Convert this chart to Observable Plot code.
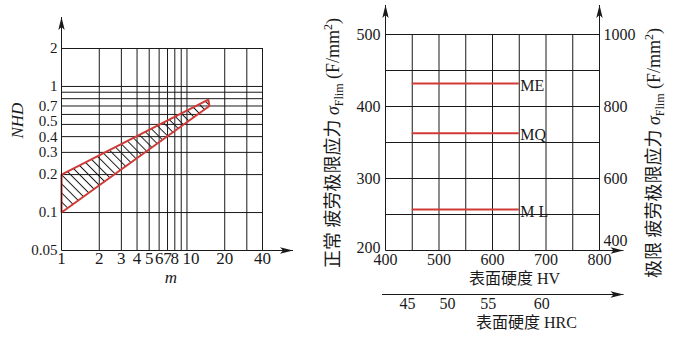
<!DOCTYPE html>
<html><head><meta charset="utf-8">
<script src="https://cdn.jsdelivr.net/npm/d3@7"></script>
<script src="https://cdn.jsdelivr.net/npm/@observablehq/plot@0.6"></script>
<style>
body{margin:0;background:#fff;}
#chart{position:relative;width:680px;height:358px;overflow:hidden;background:#fff;}
#chart svg{position:absolute;top:0;}
</style></head><body><div id="chart"></div>
<script>
// ---------- Left panel data (log-log NHD vs m) ----------
const mTickLabels = [1, 2, 3, 4, 5, 6, 7, 8, 20, 40];
const mTickLabelShifted = [10];
const mGrid = [2, 3, 4, 5, 6, 7, 8, 9, 10, 20, 30, 40];
const nhdTickLabels = [0.05, 0.1, 0.2, 0.3, 0.7, 1, 2];
const nhdTickLabelRaised = [0.5];
const nhdTickLabelLowered = [0.4];
const nhdGrid = [0.1, 0.2, 0.3, 0.4, 0.5, 0.6, 0.7, 0.8, 0.9, 1, 2];
const bandUpperM = [1, 14.8];
const bandUpperNHD = [0.2, 0.785];
const bandLowerM = [1, 15.1];
const bandLowerNHD = [0.1, 0.70];

// ---------- Right panel data ----------
const hvTicks = [400, 500, 600, 700, 800];
const hvGrid = [450, 500, 550, 600, 650, 700, 750, 800];
const sigmaTicks = [300, 400, 500];
const sigmaLowTick = [200];
const sigmaGrid = [250, 300, 350, 400, 450, 500];
const sigmaLimTicks = [1000, 800, 600];
const sigmaLimLowTick = [400];
const limitPerNormal = 2; // right axis value = 2 x left axis value
const hrcTicks = [45, 50, 55, 60];
const hrcAtHV = [441, 516, 592, 692];
const gradeNames = ["ME", "MQ", "M L"];
const gradeSigma = [432, 363, 257];
const gradeFromHV = [450, 450, 450];
const gradeToHV = [650, 650, 650];

const SERIF = "'Liberation Serif','Times New Roman','Noto Sans CJK SC',serif";
const INK = "#1a1a1a";
const RED = "#cf3a36";

const band = [
  ...bandUpperM.map((m, i) => ({m, v: bandUpperNHD[i]})),
  ...bandLowerM.map((m, i) => ({m, v: bandLowerNHD[i]})).reverse()
];
band.push(band[0]);

const grades = gradeNames.map((name, i) => ({name, s: gradeSigma[i], x1: gradeFromHV[i], x2: gradeToHV[i]}));

const yTick = {frameAnchor: "left", textAnchor: "end", dx: -4, fontSize: 15};

const left = Plot.plot({
  width: 300, height: 358,
  marginLeft: 61, marginRight: 38, marginTop: 48, marginBottom: 108,
  x: {type: "log", domain: [1, 40], axis: null},
  y: {type: "log", domain: [0.05, 2], axis: null},
  style: {background: "transparent", fontFamily: SERIF, fontSize: "17px", color: INK},
  marks: [
    Plot.ruleX(mGrid, {x: d => d, y1: 0.05, y2: 2, stroke: INK, strokeWidth: 1}),
    Plot.ruleY(nhdGrid, {y: d => d, x1: 1, x2: 40, stroke: INK, strokeWidth: 1}),
    Plot.line(band, {x: "m", y: "v", fill: "url(#hatch)", stroke: RED, strokeWidth: 2, strokeLinejoin: "miter"}),
    Plot.text(mTickLabels, {x: d => d, text: d => String(d), frameAnchor: "bottom", dy: 13}),
    Plot.text(mTickLabelShifted, {x: d => d, text: d => String(d), frameAnchor: "bottom", dy: 13, dx: 4}),
    Plot.text(nhdTickLabels, {y: d => d, text: d => String(d), ...yTick}),
    Plot.text(nhdTickLabelRaised, {y: d => d, text: d => String(d), ...yTick, dy: -3}),
    Plot.text(nhdTickLabelLowered, {y: d => d, text: d => String(d), ...yTick, dy: 1}),
    Plot.text(["m"], {text: d => d, frameAnchor: "bottom", dy: 32, dx: 9, fontStyle: "italic"}),
    Plot.text(["NHD"], {text: d => d, frameAnchor: "left", dx: -44, dy: -11, rotate: -90, fontStyle: "italic"})
  ]
});

const right = Plot.plot({
  width: 380, height: 358,
  marginLeft: 85, marginRight: 81, marginTop: 34, marginBottom: 108,
  x: {domain: [400, 800], axis: null},
  y: {domain: [200, 500], axis: null},
  style: {background: "transparent", fontFamily: SERIF, fontSize: "16px", color: INK},
  marks: [
    Plot.ruleX(hvGrid, {x: d => d, y1: 200, y2: 500, stroke: INK, strokeWidth: 1}),
    Plot.ruleY(sigmaGrid, {y: d => d, x1: 400, x2: 800, stroke: INK, strokeWidth: 1}),
    Plot.ruleY(grades, {y: "s", x1: "x1", x2: "x2", stroke: RED, strokeWidth: 2}),
    Plot.text(grades, {x: "x2", y: "s", text: "name", textAnchor: "start", dx: 1, dy: 2}),
    Plot.text(sigmaTicks, {y: d => d, text: d => String(d), frameAnchor: "left", textAnchor: "end", dx: -5}),
    Plot.text(sigmaLowTick, {y: d => d, text: d => String(d), frameAnchor: "left", textAnchor: "end", dx: -5, dy: -3}),
    Plot.text(sigmaLimTicks, {y: d => d / limitPerNormal, text: d => String(d), frameAnchor: "right", textAnchor: "start", dx: 4}),
    Plot.text(sigmaLimLowTick, {y: d => d / limitPerNormal, text: d => String(d), frameAnchor: "right", textAnchor: "start", dx: 4, dy: -10}),
    Plot.text(hvTicks, {x: d => d, text: d => String(d), frameAnchor: "bottom", dy: 14}),
    Plot.text(hrcTicks, {x: (d, i) => hrcAtHV[i], text: d => String(d), frameAnchor: "bottom", dy: 58}),
    Plot.text(["表面硬度 HV"], {text: d => d, frameAnchor: "bottom", dy: 33, dx: 22}),
    Plot.text(["表面硬度 HRC"], {text: d => d, frameAnchor: "bottom", dy: 77, dx: 34})
  ]
});

left.style.left = "0px";
right.style.left = "300px";
const chart = document.getElementById("chart");
chart.appendChild(left);
chart.appendChild(right);

// hatch pattern
const defs = d3.select(left).insert("defs", ":first-child");
const pat = defs.append("pattern").attr("id", "hatch").attr("patternUnits", "userSpaceOnUse")
  .attr("width", 6.4).attr("height", 6.4).attr("patternTransform", "rotate(-45)");
pat.append("line").attr("x1", 3.2).attr("y1", 0).attr("x2", 3.2).attr("y2", 6.4)
  .attr("stroke", INK).attr("stroke-width", 1);

function addArrow(svg, x1, y1, x2, y2) {
  const g = d3.select(svg).append("g");
  g.append("line").attr("x1", x1).attr("y1", y1).attr("x2", x2).attr("y2", y2)
    .attr("stroke", INK).attr("stroke-width", 1);
  const a = Math.atan2(y2 - y1, x2 - x1) * 180 / Math.PI;
  g.append("path").attr("d", "M0,0L-13,-3.2L-10,0L-13,3.2Z").attr("fill", INK)
    .attr("transform", `translate(${x2},${y2}) rotate(${a})`);
}

// left axes with arrows
{
  const sx = left.scale("x"), sy = left.scale("y");
  const x0 = sx.apply(1) + 0.5, y0 = sy.apply(0.05) + 0.5, xr = sx.apply(40), yt = sy.apply(2);
  addArrow(left, x0, y0, x0, yt - 31);
  addArrow(left, x0, y0, xr + 31, y0);
}
// right axes with arrows and titles
{
  const sx = right.scale("x"), sy = right.scale("y");
  const xl = sx.apply(400) + 0.5, xr = sx.apply(800) + 0.5, yb = sy.apply(200) + 0.5, yt = sy.apply(500);
  addArrow(right, xl, yb, xl, yt - 29);
  addArrow(right, xr, yb, xr, yt - 29);
  addArrow(right, xl, yb, xr + 24, yb);
  addArrow(right, xl - 3.5, yb + 44, xr + 24, yb + 44);

  function addTitle(cx, cy, lead) {
    const t = d3.select(right).append("text")
      .attr("transform", `translate(${cx},${cy}) rotate(-90)`)
      .attr("text-anchor", "middle").attr("dy", "0.35em")
      .attr("font-size", 18).attr("fill", INK).attr("font-family", SERIF);
    t.append("tspan").text(lead + " ");
    t.append("tspan").attr("font-style", "italic").text("σ");
    t.append("tspan").attr("font-size", 12).attr("dy", 4).text("Flim");
    t.append("tspan").attr("dy", -4).text(" (F/mm");
    t.append("tspan").attr("font-size", 12).attr("dy", -7).text("2");
    t.append("tspan").attr("dy", 7).text(")");
  }
  addTitle(xl - 52.5, 143, "正常 疲劳极限应力");
  addTitle(xr + 54.5, 153, "极限 疲劳极限应力");
}
</script></body></html>
